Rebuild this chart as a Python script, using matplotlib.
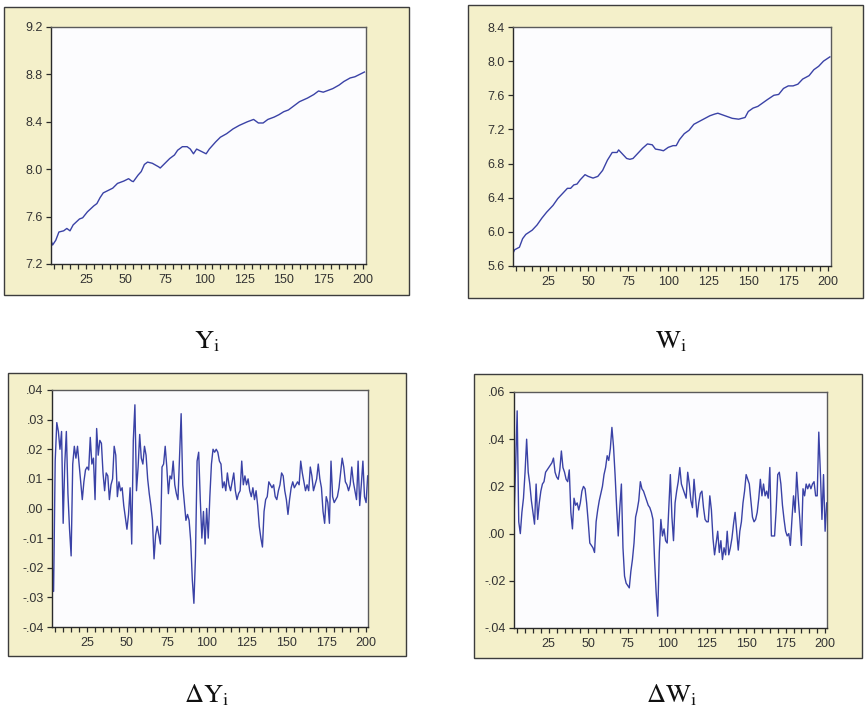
import matplotlib
matplotlib.use("Agg")
import matplotlib.pyplot as plt
import numpy as np
from matplotlib.patches import Rectangle

# ---- data ----
y_obs = [3, 4, 6, 8, 11, 13, 15, 17, 21, 23,
         26, 30, 32, 34, 36, 39, 42, 45, 49, 52,
         54, 55, 58, 60, 62, 64, 67, 71, 72, 75,
         78, 81, 83, 86, 89, 91, 93, 95, 98, 101,
         103, 107, 110, 114, 118, 122, 127, 131, 134, 137,
         140, 144, 147, 150, 153, 156, 160, 165, 169, 172,
         175, 178, 181, 185, 188, 192, 195, 198, 201]
y_level = [7.40, 7.36, 7.40, 7.47, 7.48, 7.50, 7.48, 7.53, 7.58, 7.59,
           7.64, 7.69, 7.71, 7.76, 7.80, 7.82, 7.84, 7.88, 7.90, 7.92,
           7.90, 7.895, 7.95, 7.98, 8.04, 8.06, 8.05, 8.02, 8.01, 8.05,
           8.09, 8.12, 8.16, 8.19, 8.19, 8.17, 8.13, 8.17, 8.15, 8.13,
           8.17, 8.23, 8.27, 8.30, 8.34, 8.37, 8.40, 8.42, 8.39, 8.39,
           8.42, 8.44, 8.46, 8.485, 8.50, 8.53, 8.57, 8.60, 8.63, 8.66,
           8.65, 8.665, 8.68, 8.71, 8.74, 8.77, 8.78, 8.80, 8.82]

w_obs = [3, 4, 7, 9, 11, 15, 18, 21, 24, 28,
         31, 34, 37, 39, 41, 43, 45, 48, 50, 53,
         56, 59, 62, 65, 68, 69, 71, 74, 76, 78,
         81, 84, 87, 90, 92, 95, 97, 100, 103, 105,
         107, 110, 113, 116, 120, 123, 126, 129, 131, 134,
         137, 140, 144, 146, 148, 150, 153, 156, 159, 162,
         166, 169, 172, 175, 178, 181, 184, 188, 191, 194,
         197, 201]
w_level = [5.75, 5.79, 5.82, 5.92, 5.97, 6.02, 6.08, 6.16, 6.23, 6.31,
           6.39, 6.45, 6.51, 6.51, 6.55, 6.56, 6.61, 6.67, 6.65, 6.63,
           6.65, 6.72, 6.84, 6.93, 6.93, 6.96, 6.92, 6.86, 6.85, 6.86,
           6.92, 6.98, 7.03, 7.02, 6.97, 6.96, 6.95, 6.99, 7.01, 7.01,
           7.08, 7.15, 7.19, 7.26, 7.30, 7.33, 7.36, 7.38, 7.39, 7.37,
           7.35, 7.33, 7.32, 7.33, 7.34, 7.41, 7.45, 7.47, 7.51, 7.55,
           7.60, 7.61, 7.68, 7.71, 7.71, 7.73, 7.79, 7.83, 7.90, 7.94,
           8.00, 8.05]

# first differences, observations 3..201
dy = [-0.018, -0.028, 0.016, 0.029, 0.026, 0.020, 0.026, -0.005, 0.015, 0.026,
      0.005, -0.007, -0.016, 0.015, 0.021, 0.017, 0.021, 0.015, 0.009, 0.003,
      0.009, 0.013, 0.014, 0.013, 0.024, 0.015, 0.017, 0.003, 0.027, 0.018,
      0.023, 0.022, 0.012, 0.006, 0.012, 0.011, 0.003, 0.008, 0.010, 0.021,
      0.018, 0.004, 0.009, 0.006, 0.007, 0.001, -0.003, -0.007, -0.002, 0.007,
      -0.012, 0.023, 0.035, 0.006, 0.014, 0.025, 0.017, 0.015, 0.021, 0.018,
      0.010, 0.005, 0.001, -0.004, -0.017, -0.009, -0.006, -0.009, -0.012, 0.014,
      0.015, 0.021, 0.014, 0.005, 0.011, 0.010, 0.016, 0.008, 0.005, 0.003,
      0.018, 0.032, 0.008, 0.002, -0.004, -0.002, -0.004, -0.011, -0.024, -0.032,
      -0.016, 0.016, 0.019, 0.003, -0.010, -0.001, -0.012, 0.000, -0.010, 0.004,
      0.015, 0.020, 0.019, 0.020, 0.019, 0.016, 0.015, 0.007, 0.009, 0.006,
      0.012, 0.008, 0.006, 0.009, 0.012, 0.006, 0.003, 0.005, 0.006, 0.016,
      0.008, 0.011, 0.008, 0.010, 0.006, 0.004, 0.007, 0.003, 0.006, 0.001,
      -0.006, -0.010, -0.013, -0.001, 0.003, 0.004, 0.009, 0.008, 0.007, 0.008,
      0.004, 0.003, 0.006, 0.008, 0.012, 0.011, 0.006, 0.003, -0.002, 0.003,
      0.007, 0.009, 0.007, 0.008, 0.009, 0.008, 0.016, 0.012, 0.009, 0.006,
      0.008, 0.006, 0.014, 0.011, 0.006, 0.008, 0.010, 0.015, 0.010, 0.007,
      -0.001, -0.005, 0.004, 0.002, -0.005, 0.016, 0.004, 0.002, 0.003, 0.004,
      0.007, 0.012, 0.017, 0.014, 0.009, 0.008, 0.006, 0.008, 0.014, 0.009,
      0.006, 0.003, 0.016, 0.001, 0.008, 0.016, 0.004, 0.002, 0.011]

dw = [0.006, 0.028, 0.052, 0.005, 0.000, 0.009, 0.015, 0.026, 0.040, 0.026,
      0.021, 0.014, 0.009, 0.004, 0.021, 0.006, 0.013, 0.018, 0.021, 0.022,
      0.026, 0.027, 0.028, 0.029, 0.030, 0.032, 0.026, 0.024, 0.023, 0.027,
      0.035, 0.028, 0.026, 0.023, 0.022, 0.027, 0.009, 0.002, 0.015, 0.012,
      0.013, 0.010, 0.013, 0.018, 0.020, 0.019, 0.013, 0.005, -0.004, -0.005,
      -0.006, -0.008, 0.005, 0.010, 0.014, 0.017, 0.020, 0.025, 0.028, 0.033,
      0.031, 0.036, 0.045, 0.037, 0.025, 0.011, -0.001, 0.011, 0.021, -0.006,
      -0.018, -0.021, -0.022, -0.023, -0.016, -0.011, -0.004, 0.007, 0.010, 0.014,
      0.022, 0.019, 0.018, 0.016, 0.014, 0.012, 0.011, 0.009, 0.006, -0.011,
      -0.025, -0.035, -0.008, 0.006, -0.001, 0.002, -0.003, -0.004, 0.011, 0.025,
      0.007, -0.003, 0.013, 0.018, 0.022, 0.028, 0.021, 0.019, 0.017, 0.015,
      0.026, 0.021, 0.014, 0.011, 0.023, 0.015, 0.007, 0.013, 0.017, 0.018,
      0.011, 0.006, 0.005, 0.005, 0.016, 0.010, -0.002, -0.009, -0.004, 0.001,
      -0.008, -0.003, -0.011, -0.006, -0.009, 0.001, -0.009, -0.006, -0.002, 0.004,
      0.009, 0.001, -0.007, 0.001, 0.005, 0.013, 0.018, 0.025, 0.023, 0.021,
      0.014, 0.007, 0.005, 0.006, 0.009, 0.015, 0.023, 0.016, 0.021, 0.016,
      0.018, 0.015, 0.028, -0.001, -0.001, -0.001, 0.010, 0.025, 0.026, 0.021,
      0.012, 0.006, 0.001, -0.001, 0.000, -0.005, 0.006, 0.016, 0.009, 0.026,
      0.015, 0.006, -0.005, 0.019, 0.016, 0.021, 0.019, 0.021, 0.019, 0.021,
      0.022, 0.016, 0.016, 0.043, 0.026, 0.006, 0.025, 0.001, 0.013]

x_major = [25, 50, 75, 100, 125, 150, 175, 200]
y_ticks_Y = [7.2, 7.6, 8.0, 8.4, 8.8, 9.2]
y_ticks_W = [5.6, 6.0, 6.4, 6.8, 7.2, 7.6, 8.0, 8.4]
y_ticks_dY = [-0.04, -0.03, -0.02, -0.01, 0.00, 0.01, 0.02, 0.03, 0.04]
y_ticks_dW = [-0.04, -0.02, 0.00, 0.02, 0.04, 0.06]
y_labels_dY = ["-.04", "-.03", "-.02", "-.01", ".00", ".01", ".02", ".03", ".04"]
y_labels_dW = ["-.04", "-.02", ".00", ".02", ".04", ".06"]
captions = [r"$\mathrm{Y_i}$", r"$\mathrm{W_i}$",
            r"$\mathrm{\Delta Y_i}$", r"$\mathrm{\Delta W_i}$"]

# ---- layout (pixels of the 866x711 canvas) ----
W, H = 866, 711
BEIGE = "#F4F0CA"
FACE = "#FCFCFE"
LINE = "#3A42A6"

plt.rcParams["font.family"] = ["Liberation Sans", "DejaVu Sans"]
plt.rcParams["mathtext.fontset"] = "stix"

fig = plt.figure(figsize=(W / 100, H / 100), dpi=100)
fig.patch.set_facecolor("white")


def frac(x0, y0, x1, y1):
    return [x0 / W, 1 - y1 / H, (x1 - x0) / W, (y1 - y0) / H]


def frame(x0, y0, x1, y1):
    l, b, w, h = frac(x0, y0, x1, y1)
    fig.patches.append(Rectangle((l, b), w, h, transform=fig.transFigure,
                                 facecolor=BEIGE, edgecolor="#3c3c3c",
                                 linewidth=1.0, zorder=-5))


def panel(rect, x, y, yticks, ylabels, ylim, xlim):
    ax = fig.add_axes(frac(*rect))
    ax.set_zorder(2)
    ax.set_facecolor(FACE)
    ax.plot(x, y, color=LINE, linewidth=1.0)
    ax.set_xlim(*xlim)
    ax.set_ylim(*ylim)
    ax.set_xticks(x_major)
    ax.set_xticks(np.arange(5, 201, 5), minor=True)
    ax.set_yticks(yticks)
    ax.set_yticklabels(ylabels)
    for side, s in ax.spines.items():
        s.set_color("#2a2a2a" if side in ("left", "bottom") else "#5a5a5a")
        s.set_linewidth(1.0)
    ax.tick_params(axis="both", which="both", direction="out", length=3.5,
                   width=0.9, color="#2a2a2a", labelsize=9,
                   labelcolor="#333333")
    ax.tick_params(axis="x", pad=3.5)
    ax.tick_params(axis="y", pad=2.5)
    return ax


frame(4, 7, 409, 295)
frame(468, 5, 863, 298)
frame(8, 373, 406, 656)
frame(474, 374, 862, 658)

panel((51, 27, 366, 264), y_obs, y_level, y_ticks_Y,
      [f"{v:.1f}" for v in y_ticks_Y], (7.2, 9.2), (3, 202))
panel((513, 27, 831, 266), w_obs, w_level, y_ticks_W,
      [f"{v:.1f}" for v in y_ticks_W], (5.6, 8.4), (3, 201.7))
panel((52, 390, 368, 627), np.arange(3, 3 + len(dy)), dy, y_ticks_dY,
      y_labels_dY, (-0.04, 0.04), (3, 201.2))
panel((514, 392, 827, 628), np.arange(3, 3 + len(dw)), dw, y_ticks_dW,
      y_labels_dW, (-0.04, 0.06), (3, 201.2))

caption_pos = [(207, 342), (671, 342), (207, 695), (672, 695)]
for (cx, cy), text in zip(caption_pos, captions):
    fig.text(cx / W, 1 - cy / H, text, ha="center", va="center",
             fontsize=19, color="#111111")

fig.savefig("out.png", dpi=100)
